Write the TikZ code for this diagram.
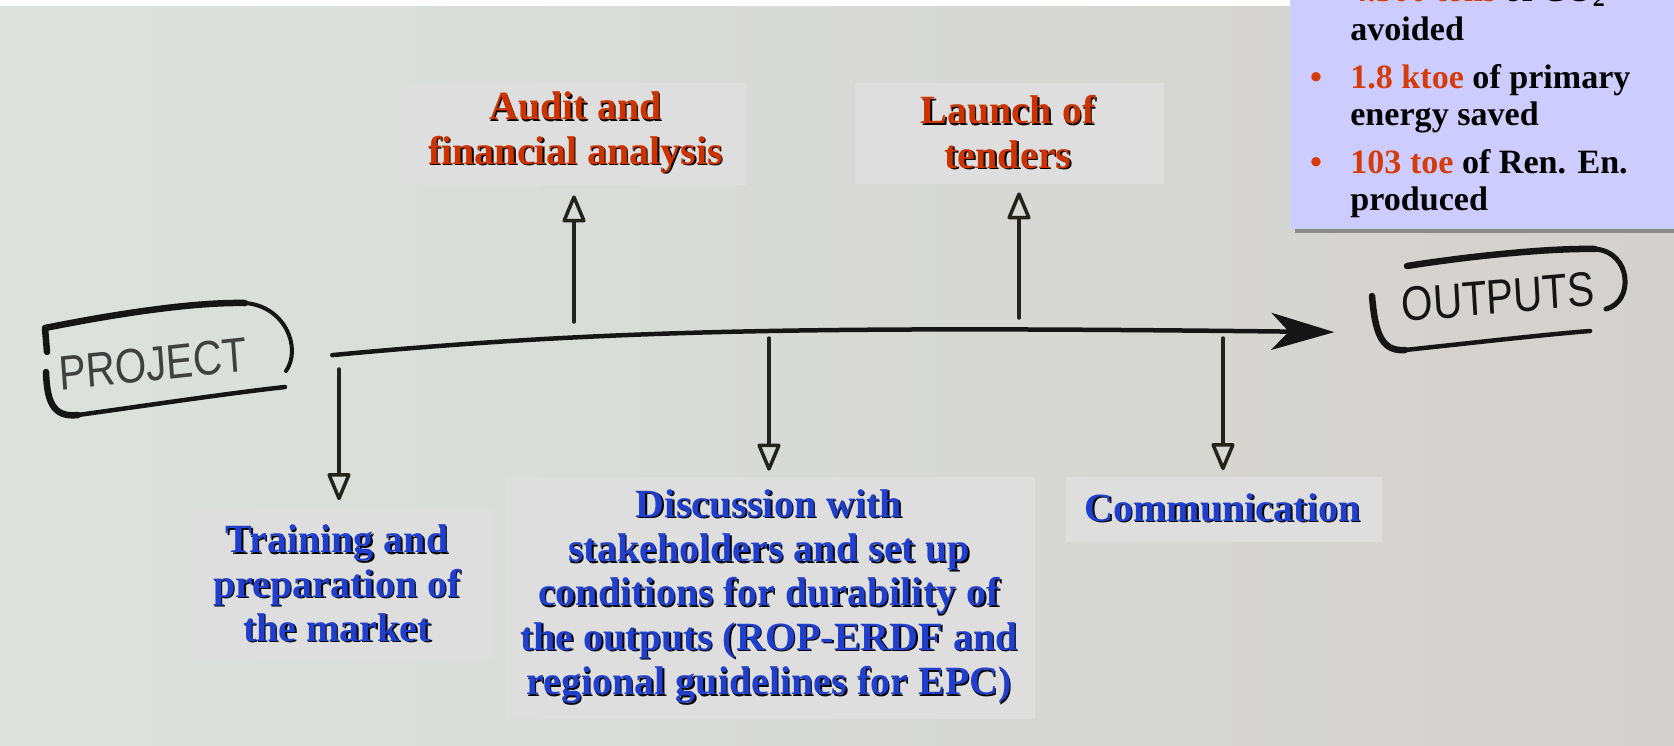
\documentclass[tikz,border=0pt]{standalone}
\usepackage{fontspec}
\setmainfont{Liberation Serif}
\setsansfont{Liberation Sans}
\usetikzlibrary{arrows.meta,shadows}

\definecolor{paperleft}{HTML}{DDE2DF}
\definecolor{paperright}{HTML}{D3D1CE}
\definecolor{boxgrey}{HTML}{DEDEDE}
\definecolor{titlered}{HTML}{CC3300}
\definecolor{titleblue}{HTML}{1F3FCC}
\definecolor{lavender}{HTML}{CCCCFF}
\definecolor{figred}{HTML}{D43C0C}
\definecolor{ink}{HTML}{151515}
\definecolor{pencil}{HTML}{24231A}

\newcommand\boxlabelfont{\fontsize{22.8}{25.2}\selectfont\bfseries}
\newcommand\resultsfont{\fontsize{19.4}{21}\selectfont\bfseries}
\newcommand\inkfont{\sffamily\fontsize{23}{23}\selectfont}

\tikzset{
  greybox/.style={fill=boxgrey, text=black, align=center, inner sep=0pt, font=\boxlabelfont},
  boxtext/.style={align=center, inner sep=0pt, font=\boxlabelfont},
  resultbox/.style={fill=lavender, inner sep=0pt, drop shadow={shadow xshift=1mm, shadow yshift=-0.8mm, fill=black!45, opacity=1}},
  resultline/.style={anchor=base west, inner sep=0pt, font=\resultsfont},
  bulletmark/.style={anchor=base, inner sep=0pt, font=\resultsfont, text=figred},
  handtext/.style={inner sep=0pt, font=\inkfont, yscale=1.2, transform shape},
  handframe/.style={draw=ink, line width=1.3mm, line cap=round, line join=round},
  timeline/.style={draw=ink, line width=0.9mm, line cap=round, -{Stealth[length=12.6mm, width=7.4mm, inset=3.5mm]}},
  handarrow/.style={draw=pencil, line width=0.7mm, line cap=round, -{Triangle[open, round, length=6mm, width=4.8mm]}}
}

\begin{document}
\begin{tikzpicture}[x=0.02cm, y=-0.02cm]
    \useasboundingbox (0,0) rectangle (1674,745);
    \clip (0,0) rectangle (1674,745);

    % Paper background
    \fill[white] (0,0) rectangle (1674,6);
    \shade[left color=paperleft, right color=paperright] (0,6) rectangle (1674,745);

    % Hand-drawn end labels
    \node[handtext, text=black!75, rotate=5] (project) at (153,364) {PROJECT};
    \node[handtext, text=ink, rotate=4] (outputs) at (1498,297) {OUTPUTS};

    % Frames round them
    \draw[handframe] (47,352) -- (45,328) .. controls (120,313) and (195,302) .. (245,303);
    \draw[handframe, line width=0.8mm] (245,303) .. controls (285,306) and (302,348) .. (286,371);
    \draw[handframe] (46,372) .. controls (47,400) and (52,418) .. (78,415);
    \draw[handframe, line width=0.9mm] (78,415) .. controls (150,405) and (230,393) .. (285,387);
    \draw[handframe] (1407,266) .. controls (1470,256) and (1550,248) .. (1595,249);
    \draw[handframe, line width=1mm] (1595,249) .. controls (1632,252) and (1634,302) .. (1606,309);
    \draw[handframe] (1372,296) .. controls (1375,330) and (1380,352) .. (1405,350);
    \draw[handframe, line width=0.9mm] (1405,350) .. controls (1480,342) and (1550,334) .. (1590,331);

    % Time line
    \draw[timeline] ([shift={(85,1)}]project.east) .. controls (600,330) and (800,326) .. ([shift={(-67,27)}]outputs.west);

    % Activity boxes (shadow text first, coloured text on top)
    \node[greybox, minimum width=68mm, minimum height=20.4mm] (audit) at (577,134) {Audit and\\financial analysis};
    \node[boxtext, text=titlered] at ([shift={(-1.5,-1.5)}]audit.center) {Audit and\\financial analysis};
    \node[greybox, minimum width=61.8mm, minimum height=20.2mm] (tenders) at (1009.5,133.5) {Launch of\\tenders};
    \node[boxtext, text=titlered] at ([shift={(-1.5,-1.5)}]tenders.center) {Launch of\\tenders};
    \node[greybox, minimum width=61mm, minimum height=30.6mm] (training) at (338.5,585) {Training and\\preparation of\\the market};
    \node[boxtext, text=titleblue] at ([shift={(-1.5,-1.5)}]training.center) {Training and\\preparation of\\the market};
    \node[greybox, minimum width=105.8mm, minimum height=48.4mm] (discussion) at (770.5,598) {Discussion with\\stakeholders and set up\\conditions for durability of\\the outputs (ROP-ERDF and\\regional guidelines for EPC)};
    \node[boxtext, text=titleblue] at ([shift={(-1.5,-1.5)}]discussion.center) {Discussion with\\stakeholders and set up\\conditions for durability of\\the outputs (ROP-ERDF and\\regional guidelines for EPC)};
    \node[greybox, minimum width=63.2mm, minimum height=13mm] (comm) at (1224,509) {Communication};
    \node[boxtext, text=titleblue] at ([shift={(-1.5,-1.5)}]comm.center) {Communication};

    % Results box
    \node[resultbox, anchor=south west, minimum width=80mm, minimum height=57.8mm] (results) at (1290,229) {};
    \node[bulletmark] (bul1) at (1316,1) {\textbullet};
    \node[resultline] (res1) at (1350,1) {\textcolor{figred}{4.300 tons} of CO\textsubscript{2}};
    \node[resultline] (res1b) at (1350,40) {avoided};
    \node[bulletmark] (bul2) at (1316,88) {\textbullet};
    \node[resultline] (res2) at (1350,88) {\textcolor{figred}{1.8 ktoe} of primary};
    \node[resultline] (res2b) at (1350,125) {energy saved};
    \node[bulletmark] (bul3) at (1316,173) {\textbullet};
    \node[resultline] (res3) at (1350,173) {\textcolor{figred}{103 toe} of Ren. En.};
    \node[resultline] (res3b) at (1350,210) {produced};

    % Arrow start points along the time line
    \coordinate (trainfoot) at (339,369);
    \coordinate (auditfoot) at (574,322);
    \coordinate (discfoot) at (769,338);
    \coordinate (tendfoot) at (1019,318);
    \coordinate (commfoot) at (1223,338);

    % Arrows
    \draw[handarrow, shorten >=1.6mm] (trainfoot) -- (trainfoot |- training.north);
    \draw[handarrow, shorten >=2mm] (auditfoot) -- (auditfoot |- audit.south);
    \draw[handarrow, shorten >=1.2mm] (discfoot) -- (discfoot |- discussion.north);
    \draw[handarrow, shorten >=1.6mm] (tendfoot) -- (tendfoot |- tenders.south);
    \draw[handarrow, shorten >=1.2mm] (commfoot) -- (commfoot |- comm.north);
\end{tikzpicture}
\end{document}
